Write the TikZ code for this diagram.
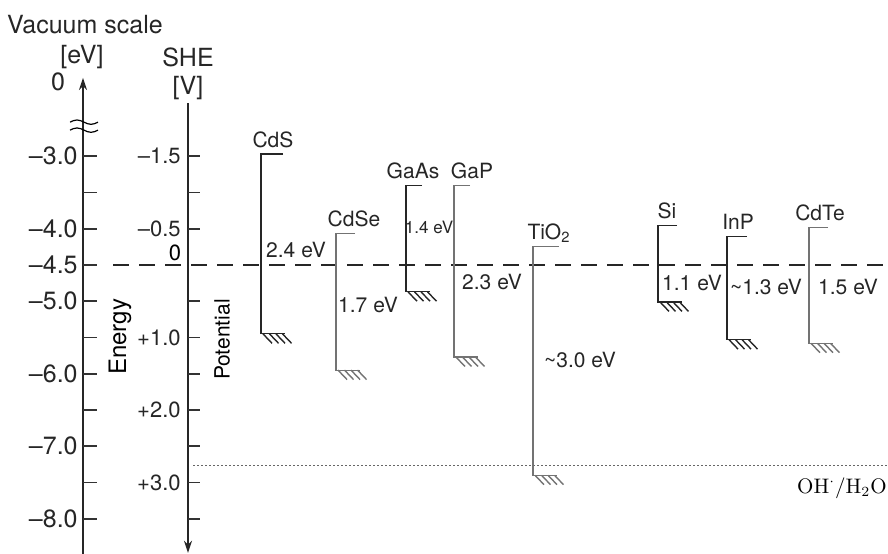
\documentclass[tikz,border=0pt]{standalone}
\usepackage{fontspec}
\setsansfont{TeX Gyre Heros}
\usetikzlibrary{positioning,arrows.meta}

\begin{document}
\begin{tikzpicture}[x=0.5pt, y=-36.25pt,
  font=\sffamily\fontsize{10.5}{12}\selectfont,
  big/.style={font=\sffamily\fontsize{12.5}{14}\selectfont, text=black!85},
  axis/.style={line width=1pt, black!85},
  tick/.style={line width=0.8pt, black!80},
  band/.style={line width=0.6pt},
  hatch/.style={line width=0.7pt},
  gap/.style={inner sep=1pt, text=black!85},
  mat/.style={anchor=base, inner sep=0pt, yshift=3.5pt, text=black!85},
  lbl/.style={anchor=east, inner sep=0pt, text=black!85}]
\useasboundingbox (0,-3.655) rectangle (888,3.986);

% headings
\node[big] (vac)  at (85,-3.31) {Vacuum scale};
\node[big] (ev)   at (82,-2.87) {[eV]};
\node[big] (she)  at (188,-2.87) {SHE};
\node[big, below=-2pt of she] (volt) {[V]};
\node[big] (zero) at (58,-2.52) {0};

% vacuum scale axis
\draw[axis, -{Stealth[length=6pt,width=4pt]}] (83,3.986) -- (83,-2.58);
\foreach \y in {-1.97,-1.86}
  \draw[line width=0.6pt] (70,\y) sin (77,\y-0.03) cos (84,\y) sin (91,\y+0.03) cos (98,\y);
\foreach \e in {3.0,3.5,...,8.0}
  \draw[tick] (83,\e-4.5) -- ++(14,0);
\foreach \e [count=\k] in {3.0,4.0,4.5,5.0,6.0,7.0,8.0}
  \node[lbl, big] (ev\k) at (78,\e-4.5) {–\e};
\node[rotate=90, font=\sffamily\fontsize{12}{14}\selectfont] (energy) at (120,0.99) {Energy};

% SHE axis
\draw[axis, -{Stealth[length=6pt,width=4pt]}] (188,-2.234) -- (188,3.97);
\foreach \v in {-1.5,-1.0,-0.5,0.5,1.0,...,3.5}
  \draw[tick] (188,\v) -- ++(12,0);
\foreach \v/\t [count=\k] in {-1.5/–1.5, -0.5/–0.5, 1.0/+1.0, 2.0/+2.0, 3.0/+3.0}
  \node[lbl, font=\sffamily\fontsize{11}{13}\selectfont] (she\k) at (181,\v) {\t};
\node[font=\sffamily\fontsize{11}{13}\selectfont] (shezero) at (175,-0.17) {0};
\node[rotate=90] (potential) at (222,1.03) {Potential};

% reference levels
\draw[line width=0.6pt, black!85, dash pattern=on 8pt off 5pt] (113,0) -- (888,0);
\draw[line width=0.4pt, black!60, dash pattern=on 1pt off 1pt] (193,2.76) -- (888,2.76);
\node[anchor=east, inner sep=0.5pt, font=\rmfamily\fontsize{10.5}{12}\selectfont] (oh)
  at (888,3.08) {OH$^{\cdot}$/H$_2$O};

% band edges
\foreach \nm/\x/\w/\cb/\vb/\col/\lx/\txt in {
    cds/261/22/-1.53/0.95/black!85/273/CdS,
    cdse/336/19/-0.43/1.45/black!55/354/CdSe,
    gaas/406/16/-1.10/0.37/black!85/413/GaAs,
    gap/454/16/-1.10/1.27/black!55/472/GaP,
    tio/533/26/-0.26/2.90/black!55/549/TiO\textsubscript{2},
    si/658/19/-0.54/0.51/black!85/667/Si,
    inp/727/20/-0.39/1.03/black!85/738/InP,
    cdte/809/19/-0.52/1.08/black!55/820/CdTe}{
  \draw[band, color=\col] (\x+\w,\cb) -- (\x,\cb) coordinate (\nm-cb)
    -- (\x,\vb) coordinate (\nm-vb) -- ++(24,0);
  \foreach \i in {0,...,3}
    \draw[hatch, color=\col] (\x+2+6.5*\i,\vb) -- ++(9,0.13);
  \node[mat] (\nm) at (\lx,\cb) {\txt};
}

% band gaps
\foreach \nm/\x/\y/\txt in {cds/296/-0.207/2.4 eV, cdse/368/0.552/1.7 eV,
    gap/492/0.234/2.3 eV, tio/580/1.31/\textasciitilde3.0 eV, si/692/0.248/1.1 eV,
    inp/766/0.303/\textasciitilde1.3 eV, cdte/848/0.303/1.5 eV}
  \node[gap] (eg-\nm) at (\x,\y) {\txt};
\node[gap, font=\sffamily\fontsize{8.5}{10}\selectfont] (eg-gaas) at (429,-0.524) {1.4 eV};
\end{tikzpicture}
\end{document}
